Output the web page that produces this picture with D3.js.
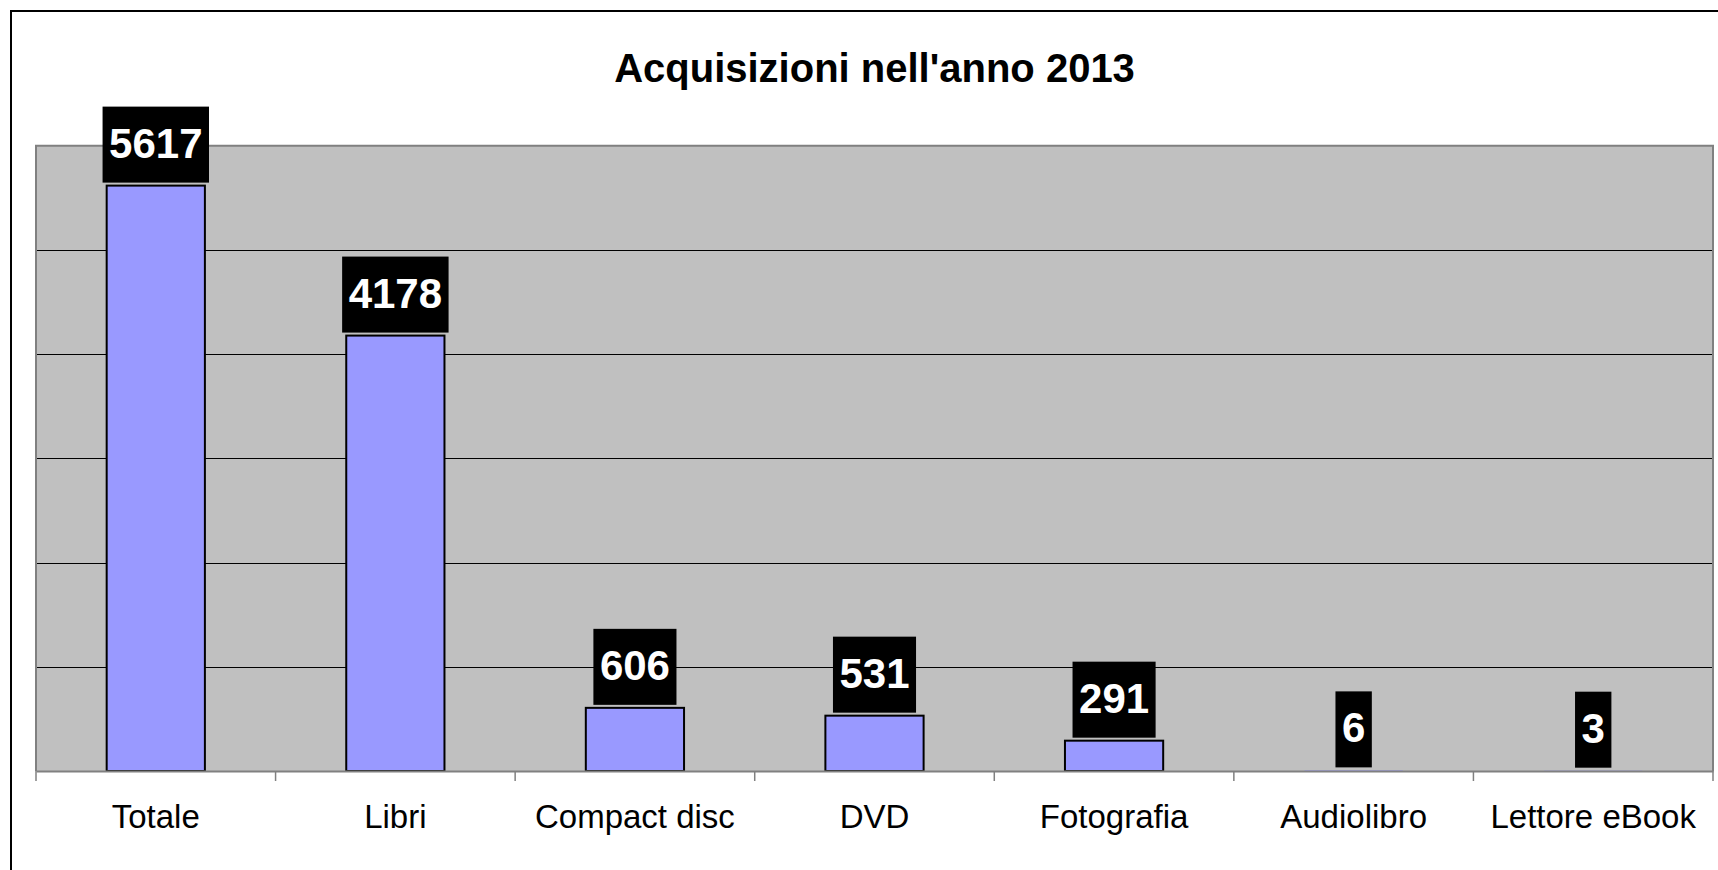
<!DOCTYPE html>
<html>
<head>
<meta charset="utf-8">
<script src="https://cdn.jsdelivr.net/npm/d3@7"></script>
<style>
  html, body { margin: 0; padding: 0; background: #fff; }
  svg { display: block; font-family: "Liberation Sans", Arial, sans-serif; }
</style>
</head>
<body>
<svg id="chart"></svg>
<script>
var categories = ["Totale", "Libri", "Compact disc", "DVD", "Fotografia", "Audiolibro", "Lettore eBook"];
var values = [5617, 4178, 606, 531, 291, 6, 3];
var yTicks = [0, 1000, 2000, 3000, 4000, 5000, 6000];
var title = "Acquisizioni nell'anno 2013";

var width = 1718, height = 870;
var plot = { left: 36, top: 145.7, right: 1713, bottom: 771 };

var svg = d3.select("#chart")
  .attr("width", width)
  .attr("height", height);

// outer frame (runs off the picture on right and bottom)
svg.append("rect")
  .attr("x", 11).attr("y", 11)
  .attr("width", width).attr("height", height)
  .attr("fill", "#fff")
  .attr("stroke", "#000")
  .attr("stroke-width", 2);

var x = d3.scaleBand()
  .domain(categories)
  .range([plot.left, plot.right])
  .padding(0);

var y = d3.scaleLinear()
  .domain([0, 6000])
  .range([plot.bottom, plot.top]);

// plot background
svg.append("rect")
  .attr("x", plot.left).attr("y", plot.top)
  .attr("width", plot.right - plot.left)
  .attr("height", plot.bottom - plot.top)
  .attr("fill", "#c0c0c0");

// gridlines
svg.append("g")
  .selectAll("line")
  .data(yTicks.filter(function(d){ return d > 0 && d < 6000; }))
  .enter().append("line")
  .attr("x1", plot.left).attr("x2", plot.right)
  .attr("y1", function(d){ return Math.round(y(d)) + 0.5; })
  .attr("y2", function(d){ return Math.round(y(d)) + 0.5; })
  .attr("stroke", "#000")
  .attr("stroke-width", 1);

// plot frame (top, left, right in gray)
svg.append("path")
  .attr("d", "M" + plot.left + "," + plot.bottom + "V" + plot.top + "H" + plot.right + "V" + plot.bottom)
  .attr("fill", "none")
  .attr("stroke", "#808080")
  .attr("stroke-width", 2);

// bars (tiny values draw no visible box)
var barW = x.bandwidth() * 0.41;
svg.append("g")
  .selectAll("rect")
  .data(values)
  .enter().append("rect")
  .attr("x", function(d, i){ return x(categories[i]) + x.bandwidth() / 2 - barW / 2; })
  .attr("y", function(d){ return y(d); })
  .attr("width", barW)
  .attr("height", function(d){ return y(0) - y(d); })
  .attr("fill", "#9999ff")
  .attr("stroke", function(d){ return y(0) - y(d) < 1 ? "none" : "#000"; })
  .attr("stroke-width", 2);

// x axis
var xAxis = d3.axisBottom(x).tickSize(0).tickPadding(0).tickFormat("");
svg.append("g")
  .attr("transform", "translate(0," + plot.bottom + ")")
  .call(xAxis)
  .call(function(g){ g.select(".domain").attr("stroke", "#808080").attr("stroke-width", 2); });

// tick marks at band boundaries
var bounds = categories.map(function(c){ return x(c); }).concat([plot.right]);
svg.append("g")
  .selectAll("line")
  .data(bounds)
  .enter().append("line")
  .attr("x1", function(d){ return d; }).attr("x2", function(d){ return d; })
  .attr("y1", plot.bottom).attr("y2", plot.bottom + 10)
  .attr("stroke", "#808080")
  .attr("stroke-width", 1.5);

// category labels
svg.append("g")
  .selectAll("text")
  .data(categories)
  .enter().append("text")
  .attr("x", function(d){ return x(d) + x.bandwidth() / 2; })
  .attr("y", 828)
  .attr("text-anchor", "middle")
  .attr("font-size", 33)
  .attr("fill", "#000")
  .text(function(d){ return d; });

// value labels in black boxes
var lab = svg.append("g")
  .selectAll("g")
  .data(values)
  .enter().append("g");

lab.each(function(d, i){
  var g = d3.select(this);
  var cx = x(categories[i]) + x.bandwidth() / 2;
  var bottom = y(d) - 3;
  var rect = g.append("rect").attr("fill", "#000");
  var t = g.append("text")
    .attr("x", cx)
    .attr("y", bottom - 25)
    .attr("text-anchor", "middle")
    .attr("font-size", 42)
    .attr("font-weight", "bold")
    .attr("fill", "#fff")
    .text(d);
  var w = t.node().getComputedTextLength() + 13;
  rect.attr("x", cx - w / 2).attr("y", bottom - 76)
    .attr("width", w).attr("height", 76);
});

// title
svg.append("text")
  .attr("x", (plot.left + plot.right) / 2)
  .attr("y", 82)
  .attr("text-anchor", "middle")
  .attr("font-size", 40)
  .attr("font-weight", "bold")
  .attr("fill", "#000")
  .text(title);
</script>
</body>
</html>
